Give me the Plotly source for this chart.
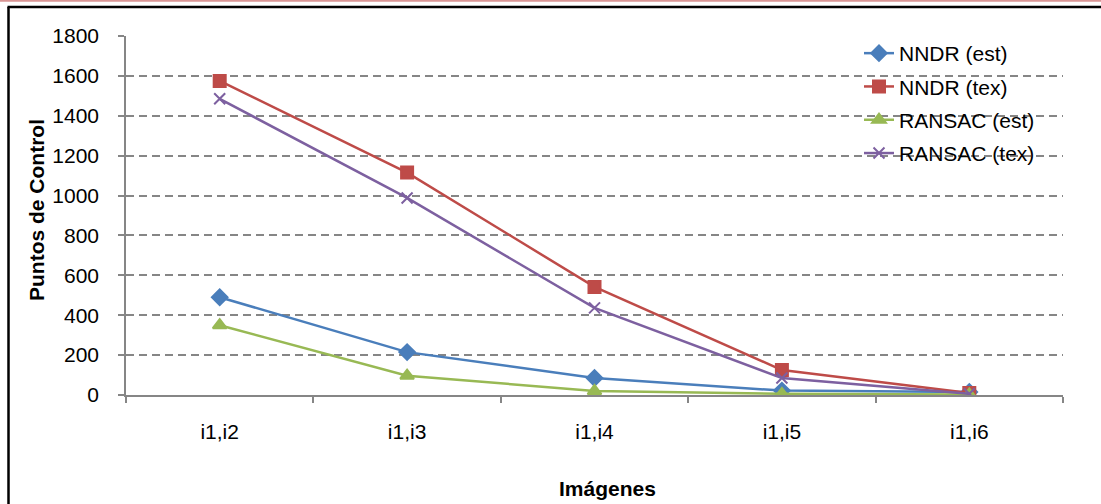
import plotly.graph_objects as go

categories = ["i1,i2", "i1,i3", "i1,i4", "i1,i5", "i1,i6"]
nndr_est = [490, 215, 85, 22, 15]
nndr_tex = [1575, 1115, 542, 125, 10]
ransac_est = [350, 97, 20, 6, 3]
ransac_tex = [1485, 988, 437, 85, 6]
y_ticks = [0, 200, 400, 600, 800, 1000, 1200, 1400, 1600, 1800]

W, H = 1101, 504
L, R, T, B = 126, 38, 36, 109
pw, ph = W - L - R, H - T - B

def px(x):
    return (x - L) / pw

def py(y):
    return (H - B - y) / ph

FONT = "Liberation Sans, Arial, sans-serif"

series = [
    ("NNDR (est)", nndr_est, "#4a7ebb", "diamond", 12),
    ("NNDR (tex)", nndr_tex, "#be4b48", "square", 12),
    ("RANSAC (est)", ransac_est, "#98b954", "triangle-up", 12),
    ("RANSAC (tex)", ransac_tex, "#7d60a0", "x-thin", 11),
]

fig = go.Figure()
for i, (name, vals, col, sym, sz) in enumerate(series):
    fig.add_trace(go.Scatter(
        x=categories, y=vals, name=name, mode="lines+markers",
        line=dict(color=col, width=2.5),
        marker=dict(symbol=sym, size=sz, color=col, line=dict(color=col, width=2)),
        legendgroup=f"g{i}",
    ))

fig.update_layout(
    width=W, height=H,
    margin=dict(l=L, r=R, t=T, b=B),
    paper_bgcolor="white", plot_bgcolor="white",
    font=dict(family=FONT, size=21, color="black"),
    showlegend=True,
    legend=dict(x=px(859), y=py(33), xanchor="left", yanchor="top",
                bgcolor="rgba(0,0,0,0)", font=dict(size=21),
                tracegroupgap=3, itemwidth=30),
    xaxis=dict(
        type="category", range=[-0.5, 4.5],
        showline=True, linecolor="#868686", linewidth=1.5,
        ticks="outside", ticklen=6, tickcolor="#868686", tickwidth=1.5,
        tickson="boundaries", showgrid=False,
        ticklabelstandoff=17,
        tickfont=dict(size=21),
    ),
    yaxis=dict(
        range=[0, 1800], tickvals=y_ticks,
        showline=True, linecolor="#868686", linewidth=1.5,
        ticks="outside", ticklen=6, tickcolor="#868686", tickwidth=1.5,
        showgrid=True, gridcolor="#868686", gridwidth=1.5, griddash="8px,5px",
        zeroline=False, ticklabelstandoff=15,
        tickfont=dict(size=21),
    ),
)

fig.add_annotation(text="<b>Puntos de Control</b>", textangle=-90,
                   xref="paper", yref="paper", x=px(36), y=py(210),
                   xanchor="center", yanchor="middle",
                   showarrow=False, font=dict(size=21))
fig.add_annotation(text="<b>Imágenes</b>",
                   xref="paper", yref="paper", x=px(607), y=py(488),
                   xanchor="center", yanchor="middle",
                   showarrow=False, font=dict(size=21))

# frame lines
fig.add_shape(type="line", xref="paper", yref="paper",
              x0=px(0), x1=px(W), y0=py(0.8), y1=py(0.8),
              line=dict(color="#d99594", width=2))
fig.add_shape(type="line", xref="paper", yref="paper",
              x0=px(7.5), x1=px(W + 5), y0=py(7), y1=py(7),
              line=dict(color="black", width=2.5))
fig.add_shape(type="line", xref="paper", yref="paper",
              x0=px(8.5), x1=px(8.5), y0=py(7), y1=py(H + 5),
              line=dict(color="black", width=2.5))

fig.write_html("out.html")
